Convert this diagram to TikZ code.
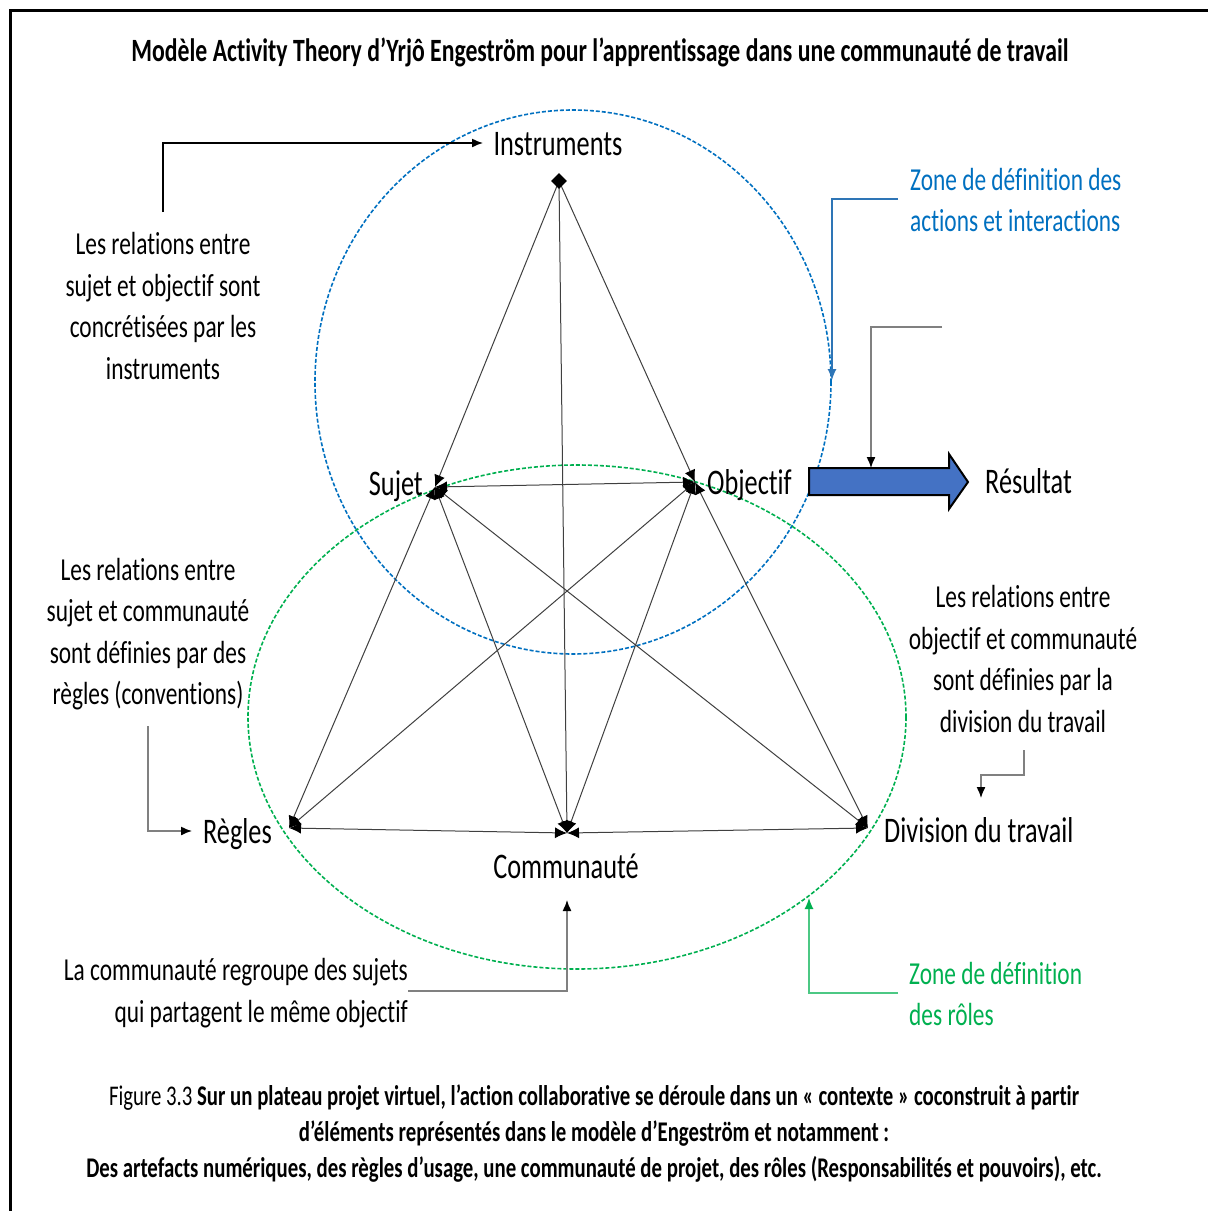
\documentclass[tikz,border=0pt]{standalone}
\usepackage{fontspec}
\setmainfont{Carlito}[FakeStretch=0.73, Ligatures=NoCommon]
\usetikzlibrary{arrows.meta,shapes.geometric}
\definecolor{zblue}{RGB}{0,112,192}
\definecolor{zbluel}{RGB}{46,117,182}
\definecolor{zgreen}{RGB}{0,176,80}
\definecolor{afill}{RGB}{68,114,196}
\begin{document}
\begin{tikzpicture}[x=1pt,y=-1pt,
  lbl/.style={font=\fontsize{36}{43}\selectfont, inner sep=0pt},
  ann/.style={font=\fontsize{32}{41.5}\selectfont, align=center, inner sep=0pt},
  link/.style={draw=black!75, line width=1pt, {Latex[length=12pt,width=11pt,color=black]}-{Latex[length=12pt,width=11pt,color=black]}},
  toplink/.style={draw=black!75, line width=1pt, -{Latex[length=12pt,width=11pt,color=black]}},
  callout/.style={draw=black!50, line width=1.4pt, -{Latex[length=11pt,width=9pt,color=black]}},
  zone/.style={dashed, dash pattern=on 4pt off 2pt, line width=1.6pt}
]
\useasboundingbox (0,0) rectangle (1208,1211);
\fill[white] (0,0) rectangle (1208,1211);
% frame
\draw[line width=3pt] (1208,10) -- (10,10) -- (10,1211);

% title
\node[font=\bfseries\fontsize{32.5}{38}\selectfont, inner sep=0pt] (title) at (600,52)
  {Modèle Activity Theory d’Yrjô Engeström pour l’apprentissage dans une communauté de travail};

% zones
\draw[zone, draw=zblue] (573,382) ellipse [x radius=258, y radius=272];
\draw[zone, draw=zgreen] (577,717) ellipse [x radius=329, y radius=252];

% vertices
\coordinate (I) at (559,181);
\coordinate (S) at (435,487);
\coordinate (O) at (695,482);
\coordinate (R) at (289,828);
\coordinate (C) at (567,833);
\coordinate (D) at (868,828);

% links
\draw[toplink] (I) -- (S);
\draw[toplink] (I) -- (O);
\draw[toplink] (I) -- (C);
\draw[link] (S) -- (O);
\draw[link] (S) -- (R);
\draw[link] (S) -- (C);
\draw[link] (S) -- (D);
\draw[link] (O) -- (R);
\draw[link] (O) -- (C);
\draw[link] (O) -- (D);
\draw[link] (R) -- (C);
\draw[link] (C) -- (D);
\node[diamond, fill=black, minimum size=16pt, inner sep=0pt] (Idia) at (I) {};

% labels
\node[lbl, anchor=base] (instr) at (558,155) {Instruments};
\node[lbl, anchor=base east] (sujet) at (423,495) {Sujet};
\node[lbl, anchor=base west] (objectif) at (707,494) {Objectif};
\node[lbl, anchor=base east] (regles) at (272,843) {Règles};
\node[lbl, anchor=base] (commu) at (566,878) {Communauté};
\node[lbl, anchor=base west] (division) at (884,842) {Division du travail};
\node[lbl, anchor=base west] (resultat) at (985,493) {Résultat};

% result arrow
\draw[fill=afill, draw=black, line width=2pt, line join=miter]
  (809,468) -- (949,468) -- (949,454) -- (968,482) -- (949,509) -- (949,495) -- (809,495) -- cycle;
\coordinate (arrowtop) at (871,468);

% annotations
\node[ann] (ann1) at (163,306) {Les relations entre\\sujet et objectif sont\\concrétisées par les\\instruments};
\node[ann] (ann2) at (148,634) {Les relations entre\\sujet et communauté\\sont définies par des\\règles (conventions)};
\node[ann] (ann3) at (1023,659) {Les relations entre\\objectif et communauté\\sont définies par la\\division du travail};
\node[ann, align=right, anchor=east] (ann4) at (408,993) {La communauté regroupe des sujets\\qui partagent le même objectif};
\node[ann, align=left, anchor=west, text=zblue] (zoneb) at (910,200) {Zone de définition des\\actions et interactions};
\node[ann, align=left, anchor=west, text=zgreen] (zoneg) at (909,994) {Zone de définition\\des rôles};

% caption
\node[font=\fontsize{28.5}{36}\selectfont, align=center, inner sep=0pt] (caption) at (594,1134)
  {Figure 3.3 \textbf{Sur un plateau projet virtuel, l’action collaborative se déroule dans un « contexte » coconstruit à partir}\\
   \textbf{d’éléments représentés dans le modèle d’Engeström et notamment :}\\
   \textbf{Des artefacts numériques, des règles d’usage, une communauté de projet, des rôles (Responsabilités et pouvoirs), etc.}};

% callout connectors
\coordinate (k1) at (163,212);
\coordinate (k1e) at (483,143);
\draw[callout, draw=black] (k1) |- (k1e);

\coordinate (k2s) at (898,199);
\coordinate (k2e) at (832,380);
\draw[line width=1.2pt, draw=zbluel, -{Latex[length=11pt,width=9pt]}] (k2s) -| (k2e);

\coordinate (k3s) at (942,327);
\draw[callout] (k3s) -| (arrowtop);

\coordinate (k4s) at (148,726);
\coordinate (k4e) at (192,831);
\draw[callout] (k4s) |- (k4e);

\coordinate (k5s) at (1024,750);
\coordinate (k5m) at (981,775);
\coordinate (k5e) at (981,798);
\draw[callout] (k5s) |- (k5m) -- (k5e);

\coordinate (k6s) at (898,993);
\coordinate (k6e) at (809,898);
\draw[line width=1.2pt, draw=zgreen!70, -{Latex[length=11pt,width=9pt,color=zgreen]}] (k6s) -| (k6e);

\coordinate (k7s) at (408,991);
\coordinate (k7e) at (567,900);
\draw[callout] (k7s) -| (k7e);
\end{tikzpicture}
\end{document}
